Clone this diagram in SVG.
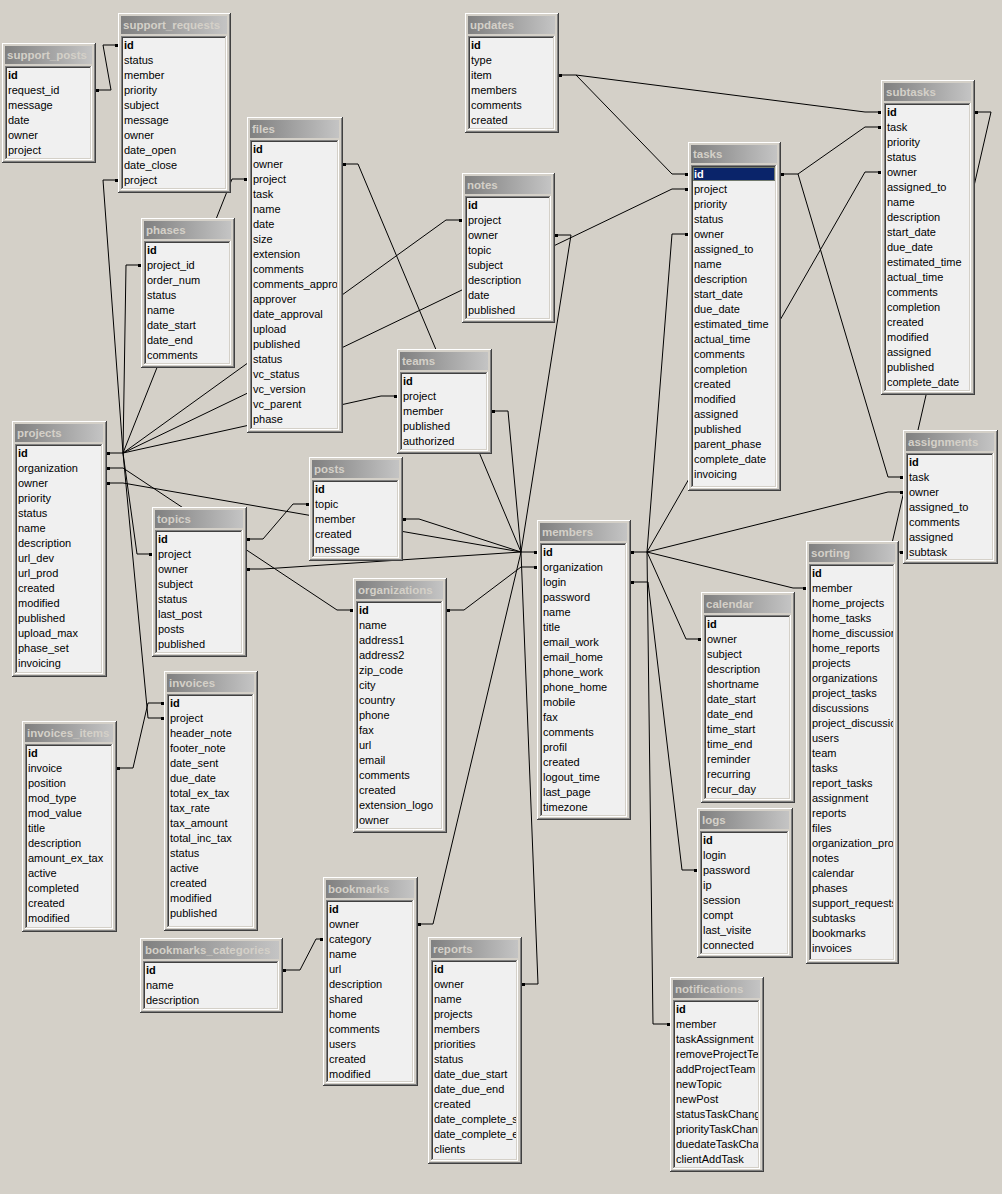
<svg xmlns="http://www.w3.org/2000/svg" xmlns:xlink="http://www.w3.org/1999/xlink" width="1002" height="1194" viewBox="0 0 1002 1194">
<defs>
<linearGradient id="tg" x1="0" y1="0" x2="1" y2="0"><stop offset="0" stop-color="#808080"/><stop offset="1" stop-color="#c4c4c4"/></linearGradient>
<rect id="d" x="0" y="-1" width="3" height="3" fill="#000"/>
<style>
.k{fill:#404040}.w{fill:#fff}.g{fill:#808080}.f{fill:#d4d0c8}.t{fill:url(#tg)}.l{fill:#f0f0f0}
text{font-family:"Liberation Sans",Arial,sans-serif;font-size:11px;fill:#000}
.tt{font-weight:bold;fill:#d4d0c8;font-size:11.5px}
.b{font-weight:bold}
.s{fill:#fff;font-weight:bold}
#connectors path{fill:none;stroke:#000;stroke-width:1}
</style>
</defs>
<rect width="1002" height="1194" fill="#d4d0c8"/>
<g id="connectors">
<path d="M107,453H123M107,468H123M107,483H123M521,552H537M521,567H537M631,552H647M631,582H648M672,174H688M781,174H798M559,75H576"/>
<path d="M96,90H111L103,45H118"/>
<path d="M118,180H103L123,453"/>
<path d="M247,179H232L123,453"/>
<path d="M141,265H126L123,453"/>
<path d="M462,220H446L123,453"/>
<path d="M688,189H672L123,453"/>
<path d="M397,396H381L123,453"/>
<path d="M152,554H137L123,453"/>
<path d="M164,718H148L123,453"/>
<path d="M164,703H148L133,768H117"/>
<path d="M123,468L337,610H353"/>
<path d="M123,483L521,552"/>
<path d="M247,539H263L293,504H309"/>
<path d="M247,569H263L521,552"/>
<path d="M403,519H419L521,552"/>
<path d="M492,411H508L521,552"/>
<path d="M343,164H358L521,552"/>
<path d="M555,235H571L521,552"/>
<path d="M418,924H433L521,552"/>
<path d="M522,984H538L521,552"/>
<path d="M447,610H464L521,567"/>
<path d="M283,970H300L316,939H323"/>
<path d="M647,552L672,234H688"/>
<path d="M647,552L865,172H881"/>
<path d="M647,552L888,492H903"/>
<path d="M647,552L793,588H806"/>
<path d="M647,552L686,639H701"/>
<path d="M647,552L653,1024H670"/>
<path d="M648,582L682,870H697"/>
<path d="M576,75L672,174"/>
<path d="M576,75L865,112H881"/>
<path d="M798,174L865,127H881"/>
<path d="M798,174L888,477H903"/>
<path d="M975,112H991L890,552H903"/>
<use href="#d" x="96" y="90"/><use href="#d" x="115" y="45"/><use href="#d" x="115" y="180"/>
<use href="#d" x="107" y="453"/><use href="#d" x="107" y="468"/><use href="#d" x="107" y="483"/>
<use href="#d" x="244" y="179"/><use href="#d" x="138" y="265"/><use href="#d" x="459" y="220"/>
<use href="#d" x="685" y="189"/><use href="#d" x="394" y="396"/><use href="#d" x="149" y="554"/>
<use href="#d" x="161" y="718"/><use href="#d" x="161" y="703"/><use href="#d" x="117" y="768"/>
<use href="#d" x="350" y="610"/><use href="#d" x="534" y="552"/><use href="#d" x="534" y="567"/>
<use href="#d" x="247" y="539"/><use href="#d" x="247" y="569"/><use href="#d" x="306" y="504"/>
<use href="#d" x="403" y="519"/><use href="#d" x="492" y="411"/><use href="#d" x="343" y="164"/>
<use href="#d" x="555" y="235"/><use href="#d" x="418" y="924"/><use href="#d" x="522" y="984"/>
<use href="#d" x="447" y="610"/><use href="#d" x="283" y="970"/><use href="#d" x="320" y="939"/>
<use href="#d" x="631" y="552"/><use href="#d" x="631" y="582"/><use href="#d" x="685" y="234"/>
<use href="#d" x="685" y="174"/><use href="#d" x="878" y="172"/><use href="#d" x="878" y="112"/>
<use href="#d" x="878" y="127"/><use href="#d" x="900" y="492"/><use href="#d" x="900" y="477"/>
<use href="#d" x="900" y="552"/><use href="#d" x="803" y="588"/><use href="#d" x="698" y="639"/>
<use href="#d" x="667" y="1024"/><use href="#d" x="694" y="870"/><use href="#d" x="559" y="75"/>
<use href="#d" x="781" y="174"/><use href="#d" x="975" y="112"/>
</g>

<g id="support_posts">
<rect class="k" x="2" y="43" width="94" height="120"/><rect class="w" x="2" y="43" width="93" height="119"/><rect class="g" x="3" y="44" width="92" height="118"/><rect class="f" x="3" y="44" width="91" height="117"/>
<rect class="t" x="5" y="46" width="87" height="18"/><text class="tt" x="7" y="59">support_posts</text>
<rect class="w" x="5" y="66" width="87" height="94"/><rect class="g" x="5" y="66" width="86" height="93"/><rect class="f" x="6" y="67" width="85" height="92"/><rect class="k" x="6" y="67" width="84" height="91"/><rect class="l" x="7" y="68" width="83" height="90"/>
<svg x="7" y="68" width="83" height="90" viewBox="7 68 83 90">
<text class="b" x="8" y="79">id</text><text x="8" y="94">request_id</text><text x="8" y="109">message</text><text x="8" y="124">date</text><text x="8" y="139">owner</text><text x="8" y="154">project</text>
</svg></g>

<g id="support_requests">
<rect class="k" x="118" y="13" width="113" height="180"/><rect class="w" x="118" y="13" width="112" height="179"/><rect class="g" x="119" y="14" width="111" height="178"/><rect class="f" x="119" y="14" width="110" height="177"/>
<rect class="t" x="121" y="16" width="106" height="18"/><text class="tt" x="123" y="29">support_requests</text>
<rect class="w" x="121" y="36" width="106" height="154"/><rect class="g" x="121" y="36" width="105" height="153"/><rect class="f" x="122" y="37" width="104" height="152"/><rect class="k" x="122" y="37" width="103" height="151"/><rect class="l" x="123" y="38" width="102" height="150"/>
<svg x="123" y="38" width="102" height="150" viewBox="123 38 102 150">
<text class="b" x="124" y="49">id</text><text x="124" y="64">status</text><text x="124" y="79">member</text><text x="124" y="94">priority</text><text x="124" y="109">subject</text><text x="124" y="124">message</text><text x="124" y="139">owner</text><text x="124" y="154">date_open</text><text x="124" y="169">date_close</text><text x="124" y="184">project</text>
</svg></g>

<g id="updates">
<rect class="k" x="465" y="13" width="94" height="120"/><rect class="w" x="465" y="13" width="93" height="119"/><rect class="g" x="466" y="14" width="92" height="118"/><rect class="f" x="466" y="14" width="91" height="117"/>
<rect class="t" x="468" y="16" width="87" height="18"/><text class="tt" x="470" y="29">updates</text>
<rect class="w" x="468" y="36" width="87" height="94"/><rect class="g" x="468" y="36" width="86" height="93"/><rect class="f" x="469" y="37" width="85" height="92"/><rect class="k" x="469" y="37" width="84" height="91"/><rect class="l" x="470" y="38" width="83" height="90"/>
<svg x="470" y="38" width="83" height="90" viewBox="470 38 83 90">
<text class="b" x="471" y="49">id</text><text x="471" y="64">type</text><text x="471" y="79">item</text><text x="471" y="94">members</text><text x="471" y="109">comments</text><text x="471" y="124">created</text>
</svg></g>

<g id="files">
<rect class="k" x="247" y="117" width="96" height="316"/><rect class="w" x="247" y="117" width="95" height="315"/><rect class="g" x="248" y="118" width="94" height="314"/><rect class="f" x="248" y="118" width="93" height="313"/>
<rect class="t" x="250" y="120" width="89" height="18"/><text class="tt" x="252" y="133">files</text>
<rect class="w" x="250" y="140" width="89" height="290"/><rect class="g" x="250" y="140" width="88" height="289"/><rect class="f" x="251" y="141" width="87" height="288"/><rect class="k" x="251" y="141" width="86" height="287"/><rect class="l" x="252" y="142" width="85" height="286"/>
<svg x="252" y="142" width="85" height="286" viewBox="252 142 85 286">
<text class="b" x="253" y="153">id</text><text x="253" y="168">owner</text><text x="253" y="183">project</text><text x="253" y="198">task</text><text x="253" y="213">name</text><text x="253" y="228">date</text><text x="253" y="243">size</text><text x="253" y="258">extension</text><text x="253" y="273">comments</text><text x="253" y="288">comments_appro</text><text x="253" y="303">approver</text><text x="253" y="318">date_approval</text><text x="253" y="333">upload</text><text x="253" y="348">published</text><text x="253" y="363">status</text><text x="253" y="378">vc_status</text><text x="253" y="393">vc_version</text><text x="253" y="408">vc_parent</text><text x="253" y="423">phase</text>
</svg></g>

<g id="notes">
<rect class="k" x="462" y="173" width="93" height="150"/><rect class="w" x="462" y="173" width="92" height="149"/><rect class="g" x="463" y="174" width="91" height="148"/><rect class="f" x="463" y="174" width="90" height="147"/>
<rect class="t" x="465" y="176" width="86" height="18"/><text class="tt" x="467" y="189">notes</text>
<rect class="w" x="465" y="196" width="86" height="124"/><rect class="g" x="465" y="196" width="85" height="123"/><rect class="f" x="466" y="197" width="84" height="122"/><rect class="k" x="466" y="197" width="83" height="121"/><rect class="l" x="467" y="198" width="82" height="120"/>
<svg x="467" y="198" width="82" height="120" viewBox="467 198 82 120">
<text class="b" x="468" y="209">id</text><text x="468" y="224">project</text><text x="468" y="239">owner</text><text x="468" y="254">topic</text><text x="468" y="269">subject</text><text x="468" y="284">description</text><text x="468" y="299">date</text><text x="468" y="314">published</text>
</svg></g>

<g id="tasks">
<rect class="k" x="688" y="142" width="93" height="349"/><rect class="w" x="688" y="142" width="92" height="348"/><rect class="g" x="689" y="143" width="91" height="347"/><rect class="f" x="689" y="143" width="90" height="346"/>
<rect class="t" x="691" y="145" width="86" height="18"/><text class="tt" x="693" y="158">tasks</text>
<rect class="w" x="691" y="165" width="86" height="323"/><rect class="g" x="691" y="165" width="85" height="322"/><rect class="f" x="692" y="166" width="84" height="321"/><rect class="k" x="692" y="166" width="83" height="320"/><rect class="l" x="693" y="167" width="82" height="319"/>
<rect x="693" y="167" width="82" height="14" fill="#0a246a"/><rect x="693.5" y="167.5" width="81" height="13" fill="none" stroke="#d8d070" stroke-dasharray="1 1"/>
<svg x="693" y="167" width="82" height="319" viewBox="693 167 82 319">
<text class="s" x="694" y="178">id</text><text x="694" y="193">project</text><text x="694" y="208">priority</text><text x="694" y="223">status</text><text x="694" y="238">owner</text><text x="694" y="253">assigned_to</text><text x="694" y="268">name</text><text x="694" y="283">description</text><text x="694" y="298">start_date</text><text x="694" y="313">due_date</text><text x="694" y="328">estimated_time</text><text x="694" y="343">actual_time</text><text x="694" y="358">comments</text><text x="694" y="373">completion</text><text x="694" y="388">created</text><text x="694" y="403">modified</text><text x="694" y="418">assigned</text><text x="694" y="433">published</text><text x="694" y="448">parent_phase</text><text x="694" y="463">complete_date</text><text x="694" y="478">invoicing</text>
</svg></g>

<g id="subtasks">
<rect class="k" x="881" y="80" width="94" height="315"/><rect class="w" x="881" y="80" width="93" height="314"/><rect class="g" x="882" y="81" width="92" height="313"/><rect class="f" x="882" y="81" width="91" height="312"/>
<rect class="t" x="884" y="83" width="87" height="18"/><text class="tt" x="886" y="96">subtasks</text>
<rect class="w" x="884" y="103" width="87" height="289"/><rect class="g" x="884" y="103" width="86" height="288"/><rect class="f" x="885" y="104" width="85" height="287"/><rect class="k" x="885" y="104" width="84" height="286"/><rect class="l" x="886" y="105" width="83" height="285"/>
<svg x="886" y="105" width="83" height="285" viewBox="886 105 83 285">
<text class="b" x="887" y="116">id</text><text x="887" y="131">task</text><text x="887" y="146">priority</text><text x="887" y="161">status</text><text x="887" y="176">owner</text><text x="887" y="191">assigned_to</text><text x="887" y="206">name</text><text x="887" y="221">description</text><text x="887" y="236">start_date</text><text x="887" y="251">due_date</text><text x="887" y="266">estimated_time</text><text x="887" y="281">actual_time</text><text x="887" y="296">comments</text><text x="887" y="311">completion</text><text x="887" y="326">created</text><text x="887" y="341">modified</text><text x="887" y="356">assigned</text><text x="887" y="371">published</text><text x="887" y="386">complete_date</text>
</svg></g>

<g id="phases">
<rect class="k" x="141" y="218" width="94" height="150"/><rect class="w" x="141" y="218" width="93" height="149"/><rect class="g" x="142" y="219" width="92" height="148"/><rect class="f" x="142" y="219" width="91" height="147"/>
<rect class="t" x="144" y="221" width="87" height="18"/><text class="tt" x="146" y="234">phases</text>
<rect class="w" x="144" y="241" width="87" height="124"/><rect class="g" x="144" y="241" width="86" height="123"/><rect class="f" x="145" y="242" width="85" height="122"/><rect class="k" x="145" y="242" width="84" height="121"/><rect class="l" x="146" y="243" width="83" height="120"/>
<svg x="146" y="243" width="83" height="120" viewBox="146 243 83 120">
<text class="b" x="147" y="254">id</text><text x="147" y="269">project_id</text><text x="147" y="284">order_num</text><text x="147" y="299">status</text><text x="147" y="314">name</text><text x="147" y="329">date_start</text><text x="147" y="344">date_end</text><text x="147" y="359">comments</text>
</svg></g>

<g id="projects">
<rect class="k" x="12" y="421" width="95" height="256"/><rect class="w" x="12" y="421" width="94" height="255"/><rect class="g" x="13" y="422" width="93" height="254"/><rect class="f" x="13" y="422" width="92" height="253"/>
<rect class="t" x="15" y="424" width="88" height="18"/><text class="tt" x="17" y="437">projects</text>
<rect class="w" x="15" y="444" width="88" height="230"/><rect class="g" x="15" y="444" width="87" height="229"/><rect class="f" x="16" y="445" width="86" height="228"/><rect class="k" x="16" y="445" width="85" height="227"/><rect class="l" x="17" y="446" width="84" height="226"/>
<svg x="17" y="446" width="84" height="226" viewBox="17 446 84 226">
<text class="b" x="18" y="457">id</text><text x="18" y="472">organization</text><text x="18" y="487">owner</text><text x="18" y="502">priority</text><text x="18" y="517">status</text><text x="18" y="532">name</text><text x="18" y="547">description</text><text x="18" y="562">url_dev</text><text x="18" y="577">url_prod</text><text x="18" y="592">created</text><text x="18" y="607">modified</text><text x="18" y="622">published</text><text x="18" y="637">upload_max</text><text x="18" y="652">phase_set</text><text x="18" y="667">invoicing</text>
</svg></g>

<g id="topics">
<rect class="k" x="152" y="507" width="95" height="150"/><rect class="w" x="152" y="507" width="94" height="149"/><rect class="g" x="153" y="508" width="93" height="148"/><rect class="f" x="153" y="508" width="92" height="147"/>
<rect class="t" x="155" y="510" width="88" height="18"/><text class="tt" x="157" y="523">topics</text>
<rect class="w" x="155" y="530" width="88" height="124"/><rect class="g" x="155" y="530" width="87" height="123"/><rect class="f" x="156" y="531" width="86" height="122"/><rect class="k" x="156" y="531" width="85" height="121"/><rect class="l" x="157" y="532" width="84" height="120"/>
<svg x="157" y="532" width="84" height="120" viewBox="157 532 84 120">
<text class="b" x="158" y="543">id</text><text x="158" y="558">project</text><text x="158" y="573">owner</text><text x="158" y="588">subject</text><text x="158" y="603">status</text><text x="158" y="618">last_post</text><text x="158" y="633">posts</text><text x="158" y="648">published</text>
</svg></g>

<g id="posts">
<rect class="k" x="309" y="457" width="94" height="104"/><rect class="w" x="309" y="457" width="93" height="103"/><rect class="g" x="310" y="458" width="92" height="102"/><rect class="f" x="310" y="458" width="91" height="101"/>
<rect class="t" x="312" y="460" width="87" height="18"/><text class="tt" x="314" y="473">posts</text>
<rect class="w" x="312" y="480" width="87" height="78"/><rect class="g" x="312" y="480" width="86" height="77"/><rect class="f" x="313" y="481" width="85" height="76"/><rect class="k" x="313" y="481" width="84" height="75"/><rect class="l" x="314" y="482" width="83" height="74"/>
<svg x="314" y="482" width="83" height="74" viewBox="314 482 83 74">
<text class="b" x="315" y="493">id</text><text x="315" y="508">topic</text><text x="315" y="523">member</text><text x="315" y="538">created</text><text x="315" y="553">message</text>
</svg></g>

<g id="teams">
<rect class="k" x="397" y="349" width="95" height="105"/><rect class="w" x="397" y="349" width="94" height="104"/><rect class="g" x="398" y="350" width="93" height="103"/><rect class="f" x="398" y="350" width="92" height="102"/>
<rect class="t" x="400" y="352" width="88" height="18"/><text class="tt" x="402" y="365">teams</text>
<rect class="w" x="400" y="372" width="88" height="79"/><rect class="g" x="400" y="372" width="87" height="78"/><rect class="f" x="401" y="373" width="86" height="77"/><rect class="k" x="401" y="373" width="85" height="76"/><rect class="l" x="402" y="374" width="84" height="75"/>
<svg x="402" y="374" width="84" height="75" viewBox="402 374 84 75">
<text class="b" x="403" y="385">id</text><text x="403" y="400">project</text><text x="403" y="415">member</text><text x="403" y="430">published</text><text x="403" y="445">authorized</text>
</svg></g>

<g id="members">
<rect class="k" x="537" y="520" width="94" height="300"/><rect class="w" x="537" y="520" width="93" height="299"/><rect class="g" x="538" y="521" width="92" height="298"/><rect class="f" x="538" y="521" width="91" height="297"/>
<rect class="t" x="540" y="523" width="87" height="18"/><text class="tt" x="542" y="536">members</text>
<rect class="w" x="540" y="543" width="87" height="274"/><rect class="g" x="540" y="543" width="86" height="273"/><rect class="f" x="541" y="544" width="85" height="272"/><rect class="k" x="541" y="544" width="84" height="271"/><rect class="l" x="542" y="545" width="83" height="270"/>
<svg x="542" y="545" width="83" height="270" viewBox="542 545 83 270">
<text class="b" x="543" y="556">id</text><text x="543" y="571">organization</text><text x="543" y="586">login</text><text x="543" y="601">password</text><text x="543" y="616">name</text><text x="543" y="631">title</text><text x="543" y="646">email_work</text><text x="543" y="661">email_home</text><text x="543" y="676">phone_work</text><text x="543" y="691">phone_home</text><text x="543" y="706">mobile</text><text x="543" y="721">fax</text><text x="543" y="736">comments</text><text x="543" y="751">profil</text><text x="543" y="766">created</text><text x="543" y="781">logout_time</text><text x="543" y="796">last_page</text><text x="543" y="811">timezone</text>
</svg></g>

<g id="organizations">
<rect class="k" x="353" y="578" width="94" height="255"/><rect class="w" x="353" y="578" width="93" height="254"/><rect class="g" x="354" y="579" width="92" height="253"/><rect class="f" x="354" y="579" width="91" height="252"/>
<rect class="t" x="356" y="581" width="87" height="18"/><text class="tt" x="358" y="594">organizations</text>
<rect class="w" x="356" y="601" width="87" height="229"/><rect class="g" x="356" y="601" width="86" height="228"/><rect class="f" x="357" y="602" width="85" height="227"/><rect class="k" x="357" y="602" width="84" height="226"/><rect class="l" x="358" y="603" width="83" height="225"/>
<svg x="358" y="603" width="83" height="225" viewBox="358 603 83 225">
<text class="b" x="359" y="614">id</text><text x="359" y="629">name</text><text x="359" y="644">address1</text><text x="359" y="659">address2</text><text x="359" y="674">zip_code</text><text x="359" y="689">city</text><text x="359" y="704">country</text><text x="359" y="719">phone</text><text x="359" y="734">fax</text><text x="359" y="749">url</text><text x="359" y="764">email</text><text x="359" y="779">comments</text><text x="359" y="794">created</text><text x="359" y="809">extension_logo</text><text x="359" y="824">owner</text>
</svg></g>

<g id="assignments">
<rect class="k" x="903" y="430" width="95" height="134"/><rect class="w" x="903" y="430" width="94" height="133"/><rect class="g" x="904" y="431" width="93" height="132"/><rect class="f" x="904" y="431" width="92" height="131"/>
<rect class="t" x="906" y="433" width="88" height="18"/><text class="tt" x="908" y="446">assignments</text>
<rect class="w" x="906" y="453" width="88" height="108"/><rect class="g" x="906" y="453" width="87" height="107"/><rect class="f" x="907" y="454" width="86" height="106"/><rect class="k" x="907" y="454" width="85" height="105"/><rect class="l" x="908" y="455" width="84" height="104"/>
<svg x="908" y="455" width="84" height="104" viewBox="908 455 84 104">
<text class="b" x="909" y="466">id</text><text x="909" y="481">task</text><text x="909" y="496">owner</text><text x="909" y="511">assigned_to</text><text x="909" y="526">comments</text><text x="909" y="541">assigned</text><text x="909" y="556">subtask</text>
</svg></g>

<g id="sorting">
<rect class="k" x="806" y="541" width="93" height="423"/><rect class="w" x="806" y="541" width="92" height="422"/><rect class="g" x="807" y="542" width="91" height="421"/><rect class="f" x="807" y="542" width="90" height="420"/>
<rect class="t" x="809" y="544" width="86" height="18"/><text class="tt" x="811" y="557">sorting</text>
<rect class="w" x="809" y="564" width="86" height="397"/><rect class="g" x="809" y="564" width="85" height="396"/><rect class="f" x="810" y="565" width="84" height="395"/><rect class="k" x="810" y="565" width="83" height="394"/><rect class="l" x="811" y="566" width="82" height="393"/>
<svg x="811" y="566" width="82" height="393" viewBox="811 566 82 393">
<text class="b" x="812" y="577">id</text><text x="812" y="592">member</text><text x="812" y="607">home_projects</text><text x="812" y="622">home_tasks</text><text x="812" y="637">home_discussions</text><text x="812" y="652">home_reports</text><text x="812" y="667">projects</text><text x="812" y="682">organizations</text><text x="812" y="697">project_tasks</text><text x="812" y="712">discussions</text><text x="812" y="727">project_discussio</text><text x="812" y="742">users</text><text x="812" y="757">team</text><text x="812" y="772">tasks</text><text x="812" y="787">report_tasks</text><text x="812" y="802">assignment</text><text x="812" y="817">reports</text><text x="812" y="832">files</text><text x="812" y="847">organization_proj</text><text x="812" y="862">notes</text><text x="812" y="877">calendar</text><text x="812" y="892">phases</text><text x="812" y="907">support_requests</text><text x="812" y="922">subtasks</text><text x="812" y="937">bookmarks</text><text x="812" y="952">invoices</text>
</svg></g>

<g id="calendar">
<rect class="k" x="701" y="592" width="94" height="211"/><rect class="w" x="701" y="592" width="93" height="210"/><rect class="g" x="702" y="593" width="92" height="209"/><rect class="f" x="702" y="593" width="91" height="208"/>
<rect class="t" x="704" y="595" width="87" height="18"/><text class="tt" x="706" y="608">calendar</text>
<rect class="w" x="704" y="615" width="87" height="185"/><rect class="g" x="704" y="615" width="86" height="184"/><rect class="f" x="705" y="616" width="85" height="183"/><rect class="k" x="705" y="616" width="84" height="182"/><rect class="l" x="706" y="617" width="83" height="181"/>
<svg x="706" y="617" width="83" height="181" viewBox="706 617 83 181">
<text class="b" x="707" y="628">id</text><text x="707" y="643">owner</text><text x="707" y="658">subject</text><text x="707" y="673">description</text><text x="707" y="688">shortname</text><text x="707" y="703">date_start</text><text x="707" y="718">date_end</text><text x="707" y="733">time_start</text><text x="707" y="748">time_end</text><text x="707" y="763">reminder</text><text x="707" y="778">recurring</text><text x="707" y="793">recur_day</text>
</svg></g>

<g id="logs">
<rect class="k" x="697" y="808" width="96" height="150"/><rect class="w" x="697" y="808" width="95" height="149"/><rect class="g" x="698" y="809" width="94" height="148"/><rect class="f" x="698" y="809" width="93" height="147"/>
<rect class="t" x="700" y="811" width="89" height="18"/><text class="tt" x="702" y="824">logs</text>
<rect class="w" x="700" y="831" width="89" height="124"/><rect class="g" x="700" y="831" width="88" height="123"/><rect class="f" x="701" y="832" width="87" height="122"/><rect class="k" x="701" y="832" width="86" height="121"/><rect class="l" x="702" y="833" width="85" height="120"/>
<svg x="702" y="833" width="85" height="120" viewBox="702 833 85 120">
<text class="b" x="703" y="844">id</text><text x="703" y="859">login</text><text x="703" y="874">password</text><text x="703" y="889">ip</text><text x="703" y="904">session</text><text x="703" y="919">compt</text><text x="703" y="934">last_visite</text><text x="703" y="949">connected</text>
</svg></g>

<g id="notifications">
<rect class="k" x="670" y="977" width="94" height="195"/><rect class="w" x="670" y="977" width="93" height="194"/><rect class="g" x="671" y="978" width="92" height="193"/><rect class="f" x="671" y="978" width="91" height="192"/>
<rect class="t" x="673" y="980" width="87" height="18"/><text class="tt" x="675" y="993">notifications</text>
<rect class="w" x="673" y="1000" width="87" height="169"/><rect class="g" x="673" y="1000" width="86" height="168"/><rect class="f" x="674" y="1001" width="85" height="167"/><rect class="k" x="674" y="1001" width="84" height="166"/><rect class="l" x="675" y="1002" width="83" height="165"/>
<svg x="675" y="1002" width="83" height="165" viewBox="675 1002 83 165">
<text class="b" x="676" y="1013">id</text><text x="676" y="1028">member</text><text x="676" y="1043">taskAssignment</text><text x="676" y="1058">removeProjectTe</text><text x="676" y="1073">addProjectTeam</text><text x="676" y="1088">newTopic</text><text x="676" y="1103">newPost</text><text x="676" y="1118">statusTaskChang</text><text x="676" y="1133">priorityTaskChan</text><text x="676" y="1148">duedateTaskChan</text><text x="676" y="1163">clientAddTask</text>
</svg></g>

<g id="invoices">
<rect class="k" x="164" y="671" width="94" height="260"/><rect class="w" x="164" y="671" width="93" height="259"/><rect class="g" x="165" y="672" width="92" height="258"/><rect class="f" x="165" y="672" width="91" height="257"/>
<rect class="t" x="167" y="674" width="87" height="18"/><text class="tt" x="169" y="687">invoices</text>
<rect class="w" x="167" y="694" width="87" height="234"/><rect class="g" x="167" y="694" width="86" height="233"/><rect class="f" x="168" y="695" width="85" height="232"/><rect class="k" x="168" y="695" width="84" height="231"/><rect class="l" x="169" y="696" width="83" height="230"/>
<svg x="169" y="696" width="83" height="230" viewBox="169 696 83 230">
<text class="b" x="170" y="707">id</text><text x="170" y="722">project</text><text x="170" y="737">header_note</text><text x="170" y="752">footer_note</text><text x="170" y="767">date_sent</text><text x="170" y="782">due_date</text><text x="170" y="797">total_ex_tax</text><text x="170" y="812">tax_rate</text><text x="170" y="827">tax_amount</text><text x="170" y="842">total_inc_tax</text><text x="170" y="857">status</text><text x="170" y="872">active</text><text x="170" y="887">created</text><text x="170" y="902">modified</text><text x="170" y="917">published</text>
</svg></g>

<g id="invoices_items">
<rect class="k" x="22" y="721" width="95" height="211"/><rect class="w" x="22" y="721" width="94" height="210"/><rect class="g" x="23" y="722" width="93" height="209"/><rect class="f" x="23" y="722" width="92" height="208"/>
<rect class="t" x="25" y="724" width="88" height="18"/><text class="tt" x="27" y="737">invoices_items</text>
<rect class="w" x="25" y="744" width="88" height="185"/><rect class="g" x="25" y="744" width="87" height="184"/><rect class="f" x="26" y="745" width="86" height="183"/><rect class="k" x="26" y="745" width="85" height="182"/><rect class="l" x="27" y="746" width="84" height="181"/>
<svg x="27" y="746" width="84" height="181" viewBox="27 746 84 181">
<text class="b" x="28" y="757">id</text><text x="28" y="772">invoice</text><text x="28" y="787">position</text><text x="28" y="802">mod_type</text><text x="28" y="817">mod_value</text><text x="28" y="832">title</text><text x="28" y="847">description</text><text x="28" y="862">amount_ex_tax</text><text x="28" y="877">active</text><text x="28" y="892">completed</text><text x="28" y="907">created</text><text x="28" y="922">modified</text>
</svg></g>

<g id="bookmarks_categories">
<rect class="k" x="140" y="938" width="143" height="75"/><rect class="w" x="140" y="938" width="142" height="74"/><rect class="g" x="141" y="939" width="141" height="73"/><rect class="f" x="141" y="939" width="140" height="72"/>
<rect class="t" x="143" y="941" width="136" height="18"/><text class="tt" x="145" y="954">bookmarks_categories</text>
<rect class="w" x="143" y="961" width="136" height="49"/><rect class="g" x="143" y="961" width="135" height="48"/><rect class="f" x="144" y="962" width="134" height="47"/><rect class="k" x="144" y="962" width="133" height="46"/><rect class="l" x="145" y="963" width="132" height="45"/>
<svg x="145" y="963" width="132" height="45" viewBox="145 963 132 45">
<text class="b" x="146" y="974">id</text><text x="146" y="989">name</text><text x="146" y="1004">description</text>
</svg></g>

<g id="bookmarks">
<rect class="k" x="323" y="877" width="95" height="209"/><rect class="w" x="323" y="877" width="94" height="208"/><rect class="g" x="324" y="878" width="93" height="207"/><rect class="f" x="324" y="878" width="92" height="206"/>
<rect class="t" x="326" y="880" width="88" height="18"/><text class="tt" x="328" y="893">bookmarks</text>
<rect class="w" x="326" y="900" width="88" height="183"/><rect class="g" x="326" y="900" width="87" height="182"/><rect class="f" x="327" y="901" width="86" height="181"/><rect class="k" x="327" y="901" width="85" height="180"/><rect class="l" x="328" y="902" width="84" height="179"/>
<svg x="328" y="902" width="84" height="179" viewBox="328 902 84 179">
<text class="b" x="329" y="913">id</text><text x="329" y="928">owner</text><text x="329" y="943">category</text><text x="329" y="958">name</text><text x="329" y="973">url</text><text x="329" y="988">description</text><text x="329" y="1003">shared</text><text x="329" y="1018">home</text><text x="329" y="1033">comments</text><text x="329" y="1048">users</text><text x="329" y="1063">created</text><text x="329" y="1078">modified</text>
</svg></g>

<g id="reports">
<rect class="k" x="428" y="937" width="94" height="227"/><rect class="w" x="428" y="937" width="93" height="226"/><rect class="g" x="429" y="938" width="92" height="225"/><rect class="f" x="429" y="938" width="91" height="224"/>
<rect class="t" x="431" y="940" width="87" height="18"/><text class="tt" x="433" y="953">reports</text>
<rect class="w" x="431" y="960" width="87" height="201"/><rect class="g" x="431" y="960" width="86" height="200"/><rect class="f" x="432" y="961" width="85" height="199"/><rect class="k" x="432" y="961" width="84" height="198"/><rect class="l" x="433" y="962" width="83" height="197"/>
<svg x="433" y="962" width="83" height="197" viewBox="433 962 83 197">
<text class="b" x="434" y="973">id</text><text x="434" y="988">owner</text><text x="434" y="1003">name</text><text x="434" y="1018">projects</text><text x="434" y="1033">members</text><text x="434" y="1048">priorities</text><text x="434" y="1063">status</text><text x="434" y="1078">date_due_start</text><text x="434" y="1093">date_due_end</text><text x="434" y="1108">created</text><text x="434" y="1123">date_complete_s</text><text x="434" y="1138">date_complete_e</text><text x="434" y="1153">clients</text>
</svg></g>
</svg>
